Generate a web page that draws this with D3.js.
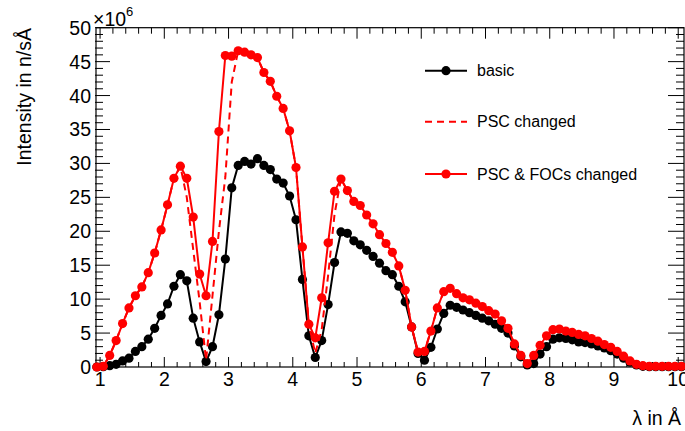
<!DOCTYPE html>
<html>
<head>
<meta charset="utf-8">
<script src="https://cdn.jsdelivr.net/npm/d3@7"></script>
<style>
  body { margin: 0; background: #fff; }
  svg { display: block; font-family: "Liberation Sans", Arial, Helvetica, sans-serif; }
</style>
</head>
<body>
<svg></svg>
<script>
// wavelength bins (Angstrom)
let lambda = [0.95, 1.05, 1.15, 1.25, 1.35, 1.45, 1.55, 1.65, 1.75, 1.85,
  1.95, 2.05, 2.15, 2.25, 2.35, 2.45, 2.55, 2.65, 2.75, 2.85,
  2.95, 3.05, 3.15, 3.25, 3.35, 3.45, 3.55, 3.65, 3.75, 3.85,
  3.95, 4.05, 4.15, 4.25, 4.35, 4.45, 4.55, 4.65, 4.75, 4.85,
  4.95, 5.05, 5.15, 5.25, 5.35, 5.45, 5.55, 5.65, 5.75, 5.85,
  5.95, 6.05, 6.15, 6.25, 6.35, 6.45, 6.55, 6.65, 6.75, 6.85,
  6.95, 7.05, 7.15, 7.25, 7.35, 7.45, 7.55, 7.65, 7.75, 7.85,
  7.95, 8.05, 8.15, 8.25, 8.35, 8.45, 8.55, 8.65, 8.75, 8.85,
  8.95, 9.05, 9.15, 9.25, 9.35, 9.45, 9.55, 9.65, 9.75, 9.85,
  9.95, 10.05];

// intensities in units of 1e6 n/sA
let basic = [0.0, 0.05, 0.2, 0.4, 0.9, 1.3, 2.3, 3.0, 4.1, 5.7,
  7.6, 9.3, 11.9, 13.6, 12.7, 7.2, 3.7, 0.8, 3.0, 7.7,
  15.9, 26.4, 29.7, 30.3, 29.9, 30.7, 29.7, 29.1, 27.7, 27.1,
  25.2, 21.7, 12.9, 4.6, 1.4, 3.9, 9.2, 15.4, 19.9, 19.7,
  18.6, 18.0, 17.2, 16.3, 15.3, 14.2, 13.6, 11.9, 9.6, 5.9,
  2.0, 1.0, 2.9, 5.6, 7.9, 9.1, 8.8, 8.4, 8.0, 7.6,
  7.2, 6.8, 6.3, 5.7, 5.0, 3.1, 1.5, 0.3, 0.5, 1.9,
  3.0, 4.1, 4.3, 4.2, 4.0, 3.7, 3.6, 3.4, 3.1, 2.8,
  2.4, 1.9, 1.3, 0.7, 0.3, 0.1, 0.05, 0.05, 0.05, 0.05,
  0.05, 0.05];

let pscChanged = [0.0, 0.1, 1.7, 3.9, 6.4, 8.7, 10.5, 11.8, 13.9, 16.8,
  20.2, 23.9, 27.8, 29.6, 25.0, 17.3, 9.6, 1.0, 10.5, 20.0,
  28.0, 42.0, 46.6, 46.4, 46.0, 45.6, 43.4, 42.1, 39.9, 38.1,
  34.8, 29.4, 17.7, 6.3, 2.0, 5.5, 13.5, 22.5, 27.7, 26.0,
  24.4, 23.8, 22.4, 21.1, 19.5, 18.2, 16.9, 14.9, 11.3, 5.9,
  2.2, 2.3, 5.3, 8.7, 11.1, 11.6, 10.8, 10.2, 9.9, 9.4,
  8.9, 8.3, 7.8, 6.8, 5.7, 3.4, 1.7, 0.5, 1.7, 3.2,
  4.6, 5.5, 5.6, 5.3, 5.1, 4.8, 4.6, 4.2, 3.8, 3.3,
  2.9, 2.3, 1.6, 0.9, 0.4, 0.2, 0.1, 0.1, 0.1, 0.1,
  0.1, 0.1];

let pscFocChanged = [0.0, 0.1, 1.7, 3.9, 6.4, 8.7, 10.5, 11.8, 13.9, 16.8,
  20.2, 23.9, 27.8, 29.6, 27.8, 22.1, 13.7, 10.5, 18.5, 34.7,
  45.9, 45.8, 46.6, 46.4, 46.0, 45.6, 43.4, 42.1, 39.9, 38.1,
  34.8, 29.4, 17.7, 6.3, 4.3, 10.2, 18.3, 25.9, 27.7, 26.0,
  24.4, 23.8, 22.4, 21.1, 19.5, 18.2, 16.9, 14.9, 11.3, 5.9,
  2.2, 2.3, 5.3, 8.7, 11.1, 11.6, 10.8, 10.2, 9.9, 9.4,
  8.9, 8.3, 7.8, 6.8, 5.7, 3.4, 1.7, 0.5, 1.7, 3.2,
  4.6, 5.5, 5.6, 5.3, 5.1, 4.8, 4.6, 4.2, 3.8, 3.3,
  2.9, 2.3, 1.6, 0.9, 0.4, 0.2, 0.1, 0.1, 0.1, 0.1,
  0.1, 0.1];

let xTicks = [1, 2, 3, 4, 5, 6, 7, 8, 9, 10];
let yTicks = [0, 5, 10, 15, 20, 25, 30, 35, 40, 45, 50];
let legendItems = ['basic', 'PSC changed', 'PSC & FOCs changed'];

let width = 685;
let height = 431;
let frame = { left: 96, right: 684, top: 27.7, bottom: 367 };

let svg = d3.select('svg').attr('width', width).attr('height', height);

let x = d3.scaleLinear().domain([0.96, 10.09]).range([97.5, frame.right]);
let y = d3.scaleLinear().domain([0, 50]).range([frame.bottom, frame.top]);

// frame
let frameGp = svg.append('g').attr('stroke', '#000').attr('fill', 'none');
frameGp.append('rect')
  .attr('x', frame.left).attr('y', frame.top)
  .attr('width', frame.right - frame.left).attr('height', frame.bottom - frame.top)
  .attr('stroke-width', 1.2);

// ticks: minor every 0.2 in x, every 1 in y
let xMinor = d3.range(1, 10.01, 0.2).map((d) => Math.round(d * 10) / 10);
let yMinor = d3.range(0, 50.01, 1);

let tickGp = svg.append('g').attr('stroke', '#000').attr('stroke-width', 1);
xMinor.forEach((v) => {
  let major = xTicks.includes(v);
  let len = major ? 10 : 5;
  tickGp.append('line').attr('x1', x(v)).attr('x2', x(v))
    .attr('y1', frame.bottom).attr('y2', frame.bottom - len);
  tickGp.append('line').attr('x1', x(v)).attr('x2', x(v))
    .attr('y1', frame.top).attr('y2', frame.top + (major ? 11 : 6));
});
yMinor.forEach((v) => {
  let major = yTicks.includes(v);
  tickGp.append('line').attr('y1', y(v)).attr('y2', y(v))
    .attr('x1', frame.left - 1).attr('x2', frame.left + (major ? 14 : 7));
  tickGp.append('line').attr('y1', y(v)).attr('y2', y(v))
    .attr('x1', frame.right).attr('x2', frame.right - (major ? 16 : 8));
});

// tick labels
let labelGp = svg.append('g').attr('font-size', 19.5).attr('fill', '#000');
labelGp.selectAll('.xl').data(xTicks).enter().append('text')
  .attr('x', (d) => x(d)).attr('y', 386)
  .attr('text-anchor', 'middle').text((d) => d);
labelGp.selectAll('.yl').data(yTicks).enter().append('text')
  .attr('x', 91).attr('y', (d) => y(d) + 7)
  .attr('text-anchor', 'end').text((d) => d);

// exponent
let expo = svg.append('text').attr('x', 93).attr('y', 26).attr('font-size', 19.5);
expo.append('tspan').text('\u00d710');
expo.append('tspan').attr('font-size', 13).attr('dy', -10).text('6');

// axis titles
svg.append('text').attr('x', 681).attr('y', 425).attr('text-anchor', 'end')
  .attr('font-size', 19.5).text('\u03bb in \u00c5');
svg.append('text').attr('transform', 'translate(30.5,28) rotate(-90)')
  .attr('text-anchor', 'end').attr('font-size', 19.5).text('Intensity in n/s\u00c5');

// series
let line = (vals) => d3.line().x((d, i) => x(lambda[i])).y((d) => y(d))(vals);

let seriesGp = svg.append('g');
seriesGp.append('path').attr('d', line(basic))
  .attr('fill', 'none').attr('stroke', '#000').attr('stroke-width', 2);
seriesGp.append('g').selectAll('circle').data(basic).enter().append('circle')
  .attr('cx', (d, i) => x(lambda[i])).attr('cy', (d) => y(d)).attr('r', 4.6).attr('fill', '#000');

seriesGp.append('path').attr('d', line(pscChanged))
  .attr('fill', 'none').attr('stroke', '#f00').attr('stroke-width', 2)
  .attr('stroke-dasharray', '7,5');

seriesGp.append('path').attr('d', line(pscFocChanged))
  .attr('fill', 'none').attr('stroke', '#f00').attr('stroke-width', 2);
seriesGp.append('g').selectAll('circle').data(pscFocChanged).enter().append('circle')
  .attr('cx', (d, i) => x(lambda[i])).attr('cy', (d) => y(d)).attr('r', 4.6).attr('fill', '#f00');

// legend
let legendY = [70.7, 121.7, 174];
let legendColor = ['#000', '#f00', '#f00'];
let legendGp = svg.append('g');
legendItems.forEach((name, i) => {
  let g = legendGp.append('g').attr('transform', `translate(0,${legendY[i]})`);
  g.append('line').attr('x1', 425).attr('x2', 467).attr('y1', 0).attr('y2', 0)
    .attr('stroke', legendColor[i]).attr('stroke-width', 2)
    .attr('stroke-dasharray', i === 1 ? '7,5' : null);
  if (i !== 1) {
    g.append('circle').attr('cx', 446).attr('cy', 0).attr('r', 4.6).attr('fill', legendColor[i]);
  }
  g.append('text').attr('x', 477).attr('y', 5.5).attr('font-size', 16).text(name);
});
</script>
</body>
</html>
